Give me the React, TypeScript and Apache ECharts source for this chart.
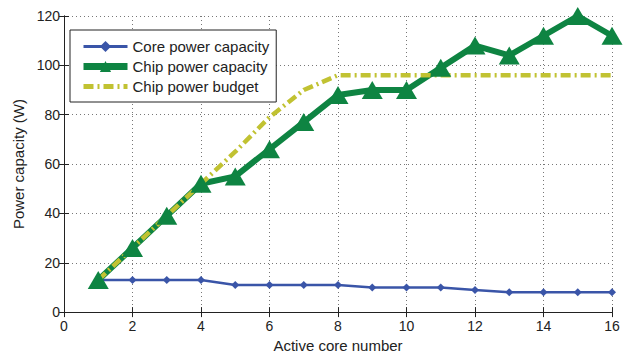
import React, { useEffect, useRef } from "react";
import * as echarts from "echarts";

const cores = [1, 2, 3, 4, 5, 6, 7, 8, 9, 10, 11, 12, 13, 14, 15, 16];
const corePower = [13, 13, 13, 13, 11, 11, 11, 11, 10, 10, 10, 9, 8, 8, 8, 8];
const chipPower = [13, 26, 39, 52, 55, 66, 77, 88, 90, 90, 99, 108, 104, 112, 120, 112];
const chipBudget = [13, 26, 39, 52, 65, 79, 90, 96, 96, 96, 96, 96, 96, 96, 96, 96];
const seriesNames = ["Core power capacity", "Chip power capacity", "Chip power budget"];

const FONT = "'Liberation Sans', Arial, sans-serif";
const BLUE = "#3a55a8";
const GREEN = "#0e8442";
const YELLOW = "#c1c232";

export default function App() {
  const ref = useRef<HTMLDivElement>(null);
  useEffect(() => {
    if (!ref.current) return;
    const chart = echarts.init(ref.current, undefined, { renderer: "svg" });
    const pair = (v: number[]) => cores.map((c, i) => [c, v[i]]);
    const gridLine = { show: true, lineStyle: { color: "#777", type: [1, 3] as any, width: 1 } };
    const axisLine = { show: true, lineStyle: { color: "#222", width: 1 } };
    chart.setOption({
      animation: false,
      backgroundColor: "#fff",
      textStyle: { fontFamily: FONT },
      grid: { left: 64, right: 15, top: 16, bottom: 39, containLabel: false },
      legend: {
        orient: "vertical",
        left: 70,
        top: 30,
        padding: [9, 7, 8, 10],
        itemGap: 5,
        itemWidth: 44,
        itemHeight: 14,
        backgroundColor: "#fff",
        borderColor: "#222",
        borderWidth: 1,
        borderRadius: 0,
        textStyle: { fontFamily: FONT, fontSize: 15, color: "#222" },
        data: [
          { name: seriesNames[0], lineStyle: { width: 3 } },
          { name: seriesNames[1], lineStyle: { width: 7 } },
          { name: seriesNames[2], lineStyle: { width: 5 }, itemStyle: { opacity: 0 } },
        ],
      },
      xAxis: [
        {
          type: "value",
          min: 0,
          max: 16,
          interval: 2,
          name: "Active core number",
          nameLocation: "middle",
          nameGap: 24,
          nameTextStyle: { fontFamily: FONT, fontSize: 15, color: "#222" },
          axisLine,
          axisTick: { show: true, inside: true, length: 5, lineStyle: { color: "#222" } },
          axisLabel: { fontFamily: FONT, fontSize: 14, color: "#222", margin: 7 },
          splitLine: gridLine,
        },
        {
          type: "value",
          position: "top",
          min: 0,
          max: 16,
          interval: 2,
          axisLine,
          axisTick: { show: true, inside: true, length: 5, lineStyle: { color: "#222" } },
          axisLabel: { show: false },
          splitLine: { show: false },
        },
      ],
      yAxis: [
        {
          type: "value",
          min: 0,
          max: 120,
          interval: 20,
          name: "Power capacity (W)",
          nameLocation: "middle",
          nameGap: 36,
          nameTextStyle: { fontFamily: FONT, fontSize: 15, color: "#222" },
          axisLine,
          axisTick: { show: true, inside: true, length: 5, lineStyle: { color: "#222" } },
          axisLabel: { fontFamily: FONT, fontSize: 14, color: "#222", margin: 4 },
          splitLine: gridLine,
        },
        {
          type: "value",
          position: "right",
          min: 0,
          max: 120,
          interval: 20,
          axisLine,
          axisTick: { show: true, inside: true, length: 5, lineStyle: { color: "#222" } },
          axisLabel: { show: false },
          splitLine: { show: false },
        },
      ],
      series: [
        {
          name: seriesNames[0],
          type: "line",
          data: pair(corePower),
          symbol: "diamond",
          symbolSize: 8,
          showAllSymbol: true,
          lineStyle: { color: BLUE, width: 2.5 },
          itemStyle: { color: BLUE },
        },
        {
          name: seriesNames[1],
          type: "line",
          data: pair(chipPower),
          symbol: "triangle",
          symbolSize: [21, 18],
          showAllSymbol: true,
          lineStyle: { color: GREEN, width: 6 },
          itemStyle: { color: GREEN },
        },
        {
          name: seriesNames[2],
          type: "line",
          data: pair(chipBudget),
          symbol: "none",
          lineStyle: { color: YELLOW, width: 4.5, type: [10, 4, 2, 4] as any },
          itemStyle: { color: YELLOW },
        },
      ],
    });
    return () => chart.dispose();
  }, []);
  return (
    <div
      ref={ref}
      style={{ position: "fixed", left: 0, top: 0, width: 627, height: 358 }}
    />
  );
}
